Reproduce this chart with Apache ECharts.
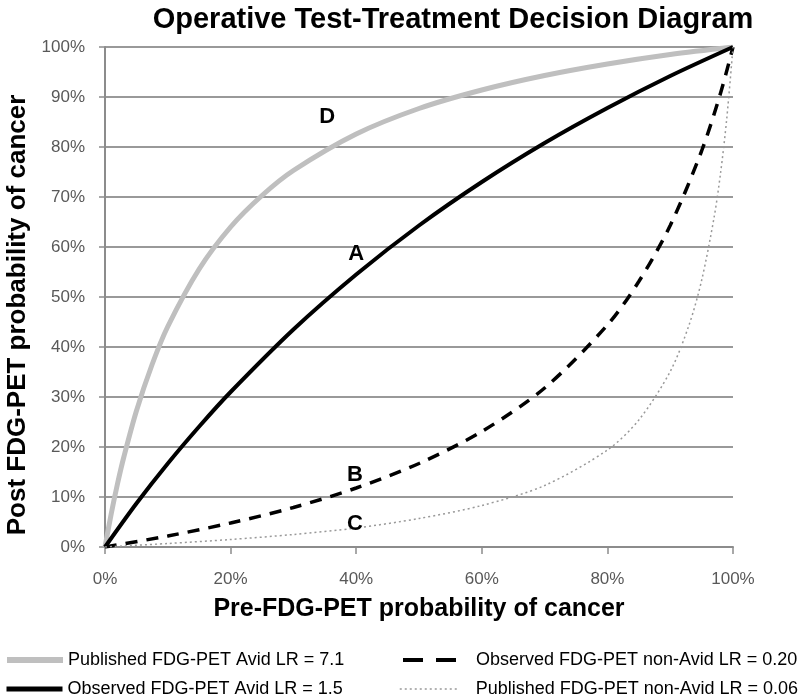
<!DOCTYPE html>
<html>
<head>
<meta charset="utf-8">
<script src="https://cdn.jsdelivr.net/npm/echarts@6/dist/echarts.min.js"></script>
<style>
html,body{margin:0;padding:0;background:#fff;}
#chart{width:800px;height:699px;}
</style>
</head>
<body>
<div id="chart"></div>
<script>
// Pre-test probability (x) and post-test probability (y)
const dX = [0,0.01,0.02,0.03,0.05,0.075,0.1,0.15,0.2,0.25,0.3,0.4,0.5,0.6,0.7,0.8,0.9,1];
const dY = [0,0.067,0.127,0.18,0.272,0.365,0.441,0.556,0.64,0.703,0.753,0.826,0.877,0.914,0.943,0.966,0.985,1];

const aX = [0,0.05,0.1,0.15,0.2,0.3,0.4,0.5,0.6,0.7,0.8,0.9,1];
const aY = [0,0.087,0.167,0.241,0.31,0.435,0.545,0.643,0.73,0.808,0.878,0.942,1];

const bX = [0,0.1,0.2,0.3,0.4,0.5,0.6,0.7,0.8,0.85,0.9,0.95,0.98,1];
const bY = [0,0.022,0.048,0.079,0.118,0.167,0.231,0.318,0.444,0.531,0.643,0.792,0.907,1];

const cX = [0,0.1,0.2,0.3,0.4,0.5,0.6,0.7,0.8,0.85,0.9,0.93,0.95,0.97,0.98,0.99,1];
const cY = [0,0.007,0.015,0.025,0.038,0.057,0.083,0.123,0.194,0.254,0.351,0.444,0.533,0.66,0.746,0.856,1];

const seriesNames = [
  'Published FDG-PET Avid LR = 7.1',
  'Observed FDG-PET Avid LR = 1.5',
  'Observed FDG-PET non-Avid LR = 0.20',
  'Published FDG-PET non-Avid LR = 0.06'
];

const curveLabels = ['D','A','B','C'];
const labelX = [0.354,0.40,0.398,0.398];
const labelY = [0.86,0.586,0.144,0.047];

const title = 'Operative Test-Treatment Decision Diagram';
const xName = 'Pre-FDG-PET probability of cancer';
const yName = 'Post FDG-PET probability of cancer';

function pairs(xs, ys){ return xs.map((x,i)=>[x, ys[i]]); }
const pct = v => Math.round(v*100) + '%';

const chart = echarts.init(document.getElementById('chart'), null, {renderer:'canvas'});
const sans = "'Liberation Sans',Arial,sans-serif";

function legendAt(name, left, top, w, line, textPad){
  return {
    data:[name], left:left, top:top, padding:0, itemWidth:w, itemHeight:14,
    itemStyle:{opacity:0},
    lineStyle:line,
    textStyle:{fontFamily:sans, fontSize:18, color:'#000', padding:[0,0,0,textPad]}
  };
}

chart.setOption({
  animation:false,
  backgroundColor:'#fff',
  title:{
    text:title, left:448, top:0, textAlign:'center',
    textStyle:{fontFamily:sans, fontWeight:'bold', fontSize:29, color:'#000'}
  },
  grid:{left:105, right:67, top:47, bottom:152, containLabel:false, outerBoundsMode:'none'},
  xAxis:{
    type:'value', min:0, max:1, interval:0.2,
    name:xName, nameLocation:'middle', nameGap:50,
    nameTextStyle:{fontFamily:sans, fontWeight:'bold', fontSize:25, color:'#000'},
    axisLine:{lineStyle:{color:'#8c8c8c', width:2}},
    axisTick:{show:true, length:7, lineStyle:{color:'#8c8c8c', width:1.5}},
    axisLabel:{formatter:pct, margin:24, fontFamily:sans, fontSize:17, color:'#595959'},
    splitLine:{show:false}
  },
  yAxis:{
    type:'value', min:0, max:1, interval:0.1,
    name:yName, nameLocation:'middle', nameGap:72, nameRotate:90,
    nameTextStyle:{fontFamily:sans, fontWeight:'bold', fontSize:26, color:'#000', padding:[0,36,0,0]},
    axisLine:{show:true, lineStyle:{color:'#8c8c8c', width:2}},
    axisTick:{show:true, length:6, lineStyle:{color:'#8c8c8c', width:1.5}},
    axisLabel:{formatter:pct, margin:20, fontFamily:sans, fontSize:17, color:'#595959'},
    splitLine:{show:true, lineStyle:{color:'#999', width:2}}
  },
  legend:[
    legendAt(seriesNames[0], 4, 651, 56, {width:6, color:'#bfbfbf'}, 0),
    legendAt(seriesNames[1], 4, 680, 56, {width:5, color:'#000'}, 0),
    legendAt(seriesNames[2], 401, 651, 56, {width:4, color:'#000', type:[20,13]}, 12),
    legendAt(seriesNames[3], 399, 680, 57, {width:1.5, color:'#999', type:[2,3]}, 14)
  ],
  series:[
    {
      name:seriesNames[0], type:'line', data:pairs(dX,dY), smooth:0.3, symbol:'none',
      lineStyle:{color:'#bfbfbf', width:5}, itemStyle:{color:'#bfbfbf'}, z:2
    },
    {
      name:seriesNames[1], type:'line', data:pairs(aX,aY), smooth:0.3, symbol:'none',
      lineStyle:{color:'#000', width:4}, itemStyle:{color:'#000'}, z:3
    },
    {
      name:seriesNames[2], type:'line', data:pairs(bX,bY), smooth:0.3, symbol:'none',
      lineStyle:{color:'#000', width:3.5, type:[12,9]}, itemStyle:{color:'#000'}, z:4
    },
    {
      name:seriesNames[3], type:'line', data:pairs(cX,cY), smooth:0.3, symbol:'none',
      lineStyle:{color:'#999', width:1.5, type:[2,3]}, itemStyle:{color:'#999'}, z:4
    },
    {
      name:'labels', type:'scatter', symbolSize:0, z:6, silent:true,
      itemStyle:{opacity:1},
      data:curveLabels.map((t,i)=>({name:t, value:[labelX[i], labelY[i]]})),
      label:{show:true, position:'inside', formatter:'{b}', fontFamily:sans, opacity:1,
        fontWeight:'bold', fontSize:22, color:'#000', textBorderWidth:0}
    }
  ]
});
</script>
</body>
</html>
